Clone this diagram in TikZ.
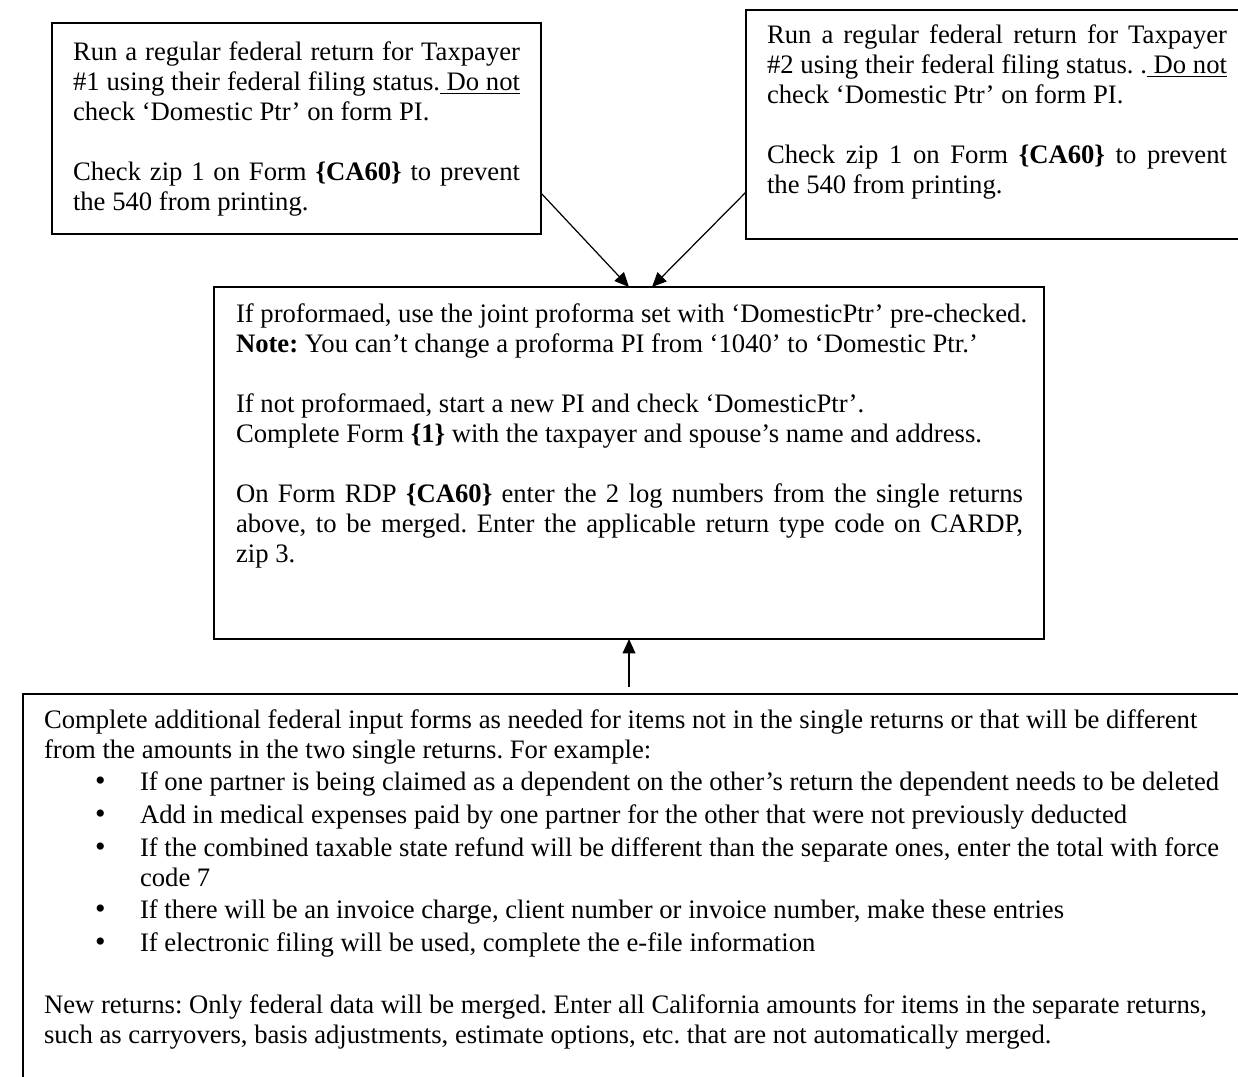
\documentclass[tikz,border=0pt]{standalone}
\usepackage{fontspec}
\setmainfont{Liberation Serif}
\usetikzlibrary{arrows.meta,calc}
\frenchspacing
\newcommand{\jl}[2]{\makebox[#1][s]{\strut #2}}
\newcommand{\bul}{\hspace*{23pt}\makebox[20.2pt][l]{{\fontsize{13.5}{13.5}\selectfont\textbullet}}}
\begin{document}
\begin{tikzpicture}[x=0.45pt,y=-0.45pt,
  box/.style={draw, line width=0.75pt, inner sep=0pt, outer sep=0pt},
  txt/.style={anchor=north west, inner sep=0pt, outer sep=0pt, align=left, font=\fontsize{12}{13.5}\selectfont\frenchspacing},
  arr/.style={line width=0.55pt, -{Triangle[length=6.5pt,width=5.8pt]}}]
\useasboundingbox (0,0) rectangle (1238,1076);

% boxes
\node[box, minimum width=220.05pt, minimum height=94.95pt] (b1) at (296.5,128.5) {};
\node[box, minimum width=226.8pt, minimum height=103.05pt] (b2) at (998,124.5) {};
\node[box, minimum width=373.5pt, minimum height=158.4pt] (b3) at (629,463) {};
\node[box, minimum width=552.15pt, minimum height=182.7pt] (b4) at (636.5,897) {};

% texts
\node[txt] (t1) at (73,39) {%
\jl{201.15pt}{Run a regular federal return for Taxpayer}\\
\jl{201.15pt}{\#1 using their federal filing status.\underline{\ Do not}}\\
check ‘Domestic Ptr’ on form PI.\\[13.5pt]
\jl{201.15pt}{Check zip 1 on Form \textbf{\{CA60\}} to prevent}\\
the 540 from printing.};

\node[txt] (t2) at (767,22) {%
\jl{207pt}{Run a regular federal return for Taxpayer}\\
\jl{207pt}{\#2 using their federal filing status. .\underline{\ Do not}}\\
check ‘Domestic Ptr’ on form PI.\\[13.5pt]
\jl{207pt}{Check zip 1 on Form \textbf{\{CA60\}} to prevent}\\
the 540 from printing.};

\node[txt] (t3) at (236,301) {%
\strut If proformaed, use the joint proforma set with ‘DomesticPtr’ pre-checked.\\
\textbf{Note:} You can’t change a proforma PI from ‘1040’ to ‘Domestic Ptr.’\\[13.5pt]
If not proformaed, start a new PI and check ‘DomesticPtr’.\\
Complete Form \textbf{\{1\}} with the taxpayer and spouse’s name and address.\\[13.5pt]
\jl{354.15pt}{On Form RDP \textbf{\{CA60\}} enter the 2 log numbers from the single returns}\\
\jl{354.15pt}{above, to be merged. Enter the applicable return type code on CARDP,}\\
zip 3.};

\node[txt] (t4) at (44,707) {%
\strut Complete additional federal input forms as needed for items not in the single returns or that will be different\\
from the amounts in the two single returns. For example:\\[1.2pt]
\bul If one partner is being claimed as a dependent on the other’s return the dependent needs to be deleted\\[1.2pt]
\bul Add in medical expenses paid by one partner for the other that were not previously deducted\\[1.2pt]
\bul If the combined taxable state refund will be different than the separate ones, enter the total with force\\
\hspace*{43.2pt}code 7\\[1.2pt]
\bul If there will be an invoice charge, client number or invoice number, make these entries\\[1.2pt]
\bul If electronic filing will be used, complete the e-file information\\[14.5pt]
New returns: Only federal data will be merged. Enter all California amounts for items in the separate returns,\\
such as carryovers, basis adjustments, estimate options, etc. that are not automatically merged.};

% connectors
\draw[arr] ($(b1.north east)!0.806!(b1.south east)$) -- (b3.north);
\draw[arr] ($(b2.north west)!0.795!(b2.south west)$) -- ($(b3.north)+(23,0)$);
\draw[arr] ($(b3.south |- b4.north)+(0,-7)$) -- (b3.south);
\end{tikzpicture}
\end{document}
